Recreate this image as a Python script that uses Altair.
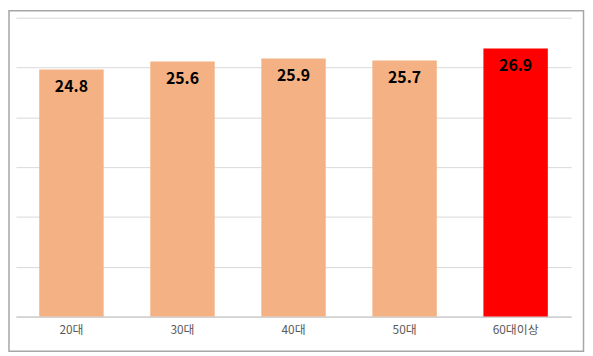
import altair as alt
import pandas as pd

categories = ["20대", "30대", "40대", "50대", "60대이상"]
values = [24.8, 25.6, 25.9, 25.7, 26.9]
colors = ["#F4B183", "#F4B183", "#F4B183", "#F4B183", "#FF0000"]

df = pd.DataFrame({"cat": categories, "val": values, "color": colors})
FONT = "Noto Sans CJK KR"

x = alt.X("cat:N", sort=categories, title=None,
          scale=alt.Scale(paddingInner=0.42, paddingOuter=0.21),
          axis=alt.Axis(labelAngle=0, labelFontSize=12, labelColor="#595959",
                        labelFont=FONT, ticks=False, domainColor="#BFBFBF",
                        domainWidth=1, labelPadding=8))
y = alt.Y("val:Q", title=None,
          scale=alt.Scale(domain=[0, 30], nice=False),
          axis=alt.Axis(values=[0, 5, 10, 15, 20, 25, 30], labels=False, ticks=False,
                        domain=False, gridColor="#D9D9D9", gridWidth=1))

base = alt.Chart(df)
bars = base.mark_bar().encode(x=x, y=y, color=alt.Color("color:N", scale=None))
text = base.mark_text(fontSize=16, fontWeight="bold", font=FONT, color="#000000",
                      baseline="middle", dy=18).encode(
    x=alt.X("cat:N", sort=categories), y="val:Q", text=alt.Text("val:Q", format=".1f"))

frame = alt.Chart(alt.Data(values=[{}])).mark_rect(
    fill=None, stroke="#A6A6A6", strokeWidth=1.5).encode(
    x=alt.value(-7), x2=alt.value(573.5), y=alt.value(-7), y2=alt.value(337))

chart = alt.layer(bars, text, frame).properties(
    width=561, height=302,
    padding=0,
    background="white",
).configure_view(stroke=None)

chart.save("out.html", embed_options={"renderer": "svg", "actions": False})
